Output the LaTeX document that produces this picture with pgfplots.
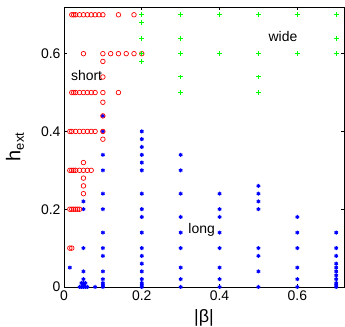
\documentclass[border=0pt]{standalone}
\usepackage{fontspec}
\setmainfont{Liberation Sans}
\usepackage{pgfplots}
\pgfplotsset{compat=1.18}
\definecolor{mgreen}{rgb}{0,1,0}
\begin{document}
\begin{tikzpicture}
\begin{axis}[name=ax, at={(0,0)}, anchor=south west,
  scale only axis, width=280bp, height=280bp,
  xmin=0, xmax=0.72, ymin=0, ymax=0.72,
  xtick={0,0.2,0.4,0.6}, ytick={0,0.2,0.4,0.6},
  xticklabels={0,0.2,0.4,0.6}, yticklabels={0,0.2,0.4,0.6},
  tick align=inside, major tick length=3bp,
  axis line style={line width=0.8pt}, tick style={line width=0.6pt, black},
  ticklabel style={font=\fontsize{14}{16}\selectfont},
  /pgf/number format/assume math mode=true,
  xlabel={|β|},
  xlabel style={font=\fontsize{18}{20}\selectfont, at={(axis description cs:0.5,0)}, anchor=center, yshift=-31bp},
  clip=false,
]
% long (blue)
\addplot[only marks, blue, mark=asterisk, mark size=2bp, line width=1.1pt] coordinates {
(0.015,0.05) (0.08,0)
(0.05,0.22) (0.05,0.2) (0.05,0.1) (0.05,0.04) (0.05,0.02) (0.05,0.01) (0.05,0.005) (0.05,0)
(0.04,0) (0.045,0) (0.055,0) (0.06,0) (0.045,0.01) (0.055,0.01)
(0.1,0.44) (0.1,0.4) (0.1,0.34) (0.1,0.3) (0.1,0.24) (0.1,0.2) (0.1,0.14) (0.1,0.1) (0.1,0.08) (0.1,0.04) (0.1,0.02) (0.1,0.01) (0.1,0.005) (0.1,0)
(0.2,0.4) (0.2,0.38) (0.2,0.36) (0.2,0.34) (0.2,0.32) (0.2,0.3) (0.2,0.24) (0.2,0.2) (0.2,0.18) (0.2,0.14) (0.2,0.1) (0.2,0.08) (0.2,0.06) (0.2,0.04) (0.2,0.02) (0.2,0.01) (0.2,0.005) (0.2,0)
(0.3,0.34) (0.3,0.3) (0.3,0.24) (0.3,0.18) (0.3,0.14) (0.3,0.1) (0.3,0.05) (0.3,0.02) (0.3,0)
(0.4,0.24) (0.4,0.2) (0.4,0.18) (0.4,0.14) (0.4,0.1) (0.4,0.05) (0.4,0.02) (0.4,0)
(0.5,0.26) (0.5,0.24) (0.5,0.22) (0.5,0.2) (0.5,0.1) (0.5,0.08) (0.5,0.04) (0.5,0)
(0.6,0.18) (0.6,0.14) (0.6,0.1) (0.6,0.05) (0.6,0.02) (0.6,0)
(0.7,0.14) (0.7,0.1) (0.7,0.08) (0.7,0.06) (0.7,0.05) (0.7,0.04) (0.7,0.03) (0.7,0.02) (0.7,0.01) (0.7,0.005) (0.7,0)
};
% short (red)
\addplot[only marks, red, mark=o, mark size=2.3bp, line width=0.7pt] coordinates {
(0.02,0.7) (0.025,0.7) (0.03,0.7) (0.04,0.7) (0.05,0.7) (0.06,0.7) (0.07,0.7) (0.08,0.7) (0.09,0.7) (0.1,0.7) (0.14,0.7) (0.18,0.7)
(0.05,0.6) (0.1,0.6) (0.12,0.6) (0.14,0.6) (0.16,0.6) (0.18,0.6) (0.2,0.6)
(0.1,0.58) (0.1,0.54) (0.1,0.475) (0.1,0.44) (0.1,0.38)
(0.02,0.5) (0.025,0.5) (0.03,0.5) (0.04,0.5) (0.05,0.5) (0.06,0.5) (0.07,0.5) (0.08,0.5) (0.1,0.5) (0.14,0.5)
(0.015,0.4) (0.02,0.4) (0.03,0.4) (0.04,0.4) (0.05,0.4) (0.06,0.4) (0.07,0.4) (0.08,0.4) (0.1,0.4)
(0.05,0.32) (0.05,0.28) (0.05,0.26) (0.05,0.24)
(0.015,0.3) (0.02,0.3) (0.025,0.3) (0.03,0.3) (0.04,0.3) (0.05,0.3) (0.06,0.3) (0.07,0.3)
(0.015,0.2) (0.02,0.2) (0.025,0.2) (0.03,0.2) (0.035,0.2) (0.04,0.2)
(0.015,0.1) (0.02,0.1)
};
% wide (green)
\addplot[only marks, mgreen, mark=+, mark size=2.4bp, line width=1pt] coordinates {
(0.2,0.7) (0.2,0.68) (0.2,0.64) (0.2,0.6) (0.2,0.58)
(0.3,0.7) (0.3,0.64) (0.3,0.6) (0.3,0.54) (0.3,0.5)
(0.4,0.7) (0.4,0.6)
(0.5,0.7) (0.5,0.6) (0.5,0.54) (0.5,0.5)
(0.6,0.7) (0.6,0.6)
(0.7,0.7) (0.7,0.64) (0.7,0.6)
};
\node[font=\fontsize{14}{16}\selectfont] at (axis cs:0.058,0.545) {short};
\node[font=\fontsize{14}{16}\selectfont] at (axis cs:0.354,0.148) {long};
\node[font=\fontsize{14}{16}\selectfont] at (axis cs:0.563,0.643) {wide};
\end{axis}
\node[rotate=90, font=\fontsize{20}{22}\selectfont, anchor=center] at ([xshift=-49bp]ax.west) {h\raisebox{-0.35ex}{\fontsize{13}{14}\selectfont ext}};
\pgfresetboundingbox
\path ([xshift=-64bp,yshift=-40bp]ax.south west) rectangle ([xshift=1bp,yshift=7bp]ax.north east);
\end{tikzpicture}
\end{document}
